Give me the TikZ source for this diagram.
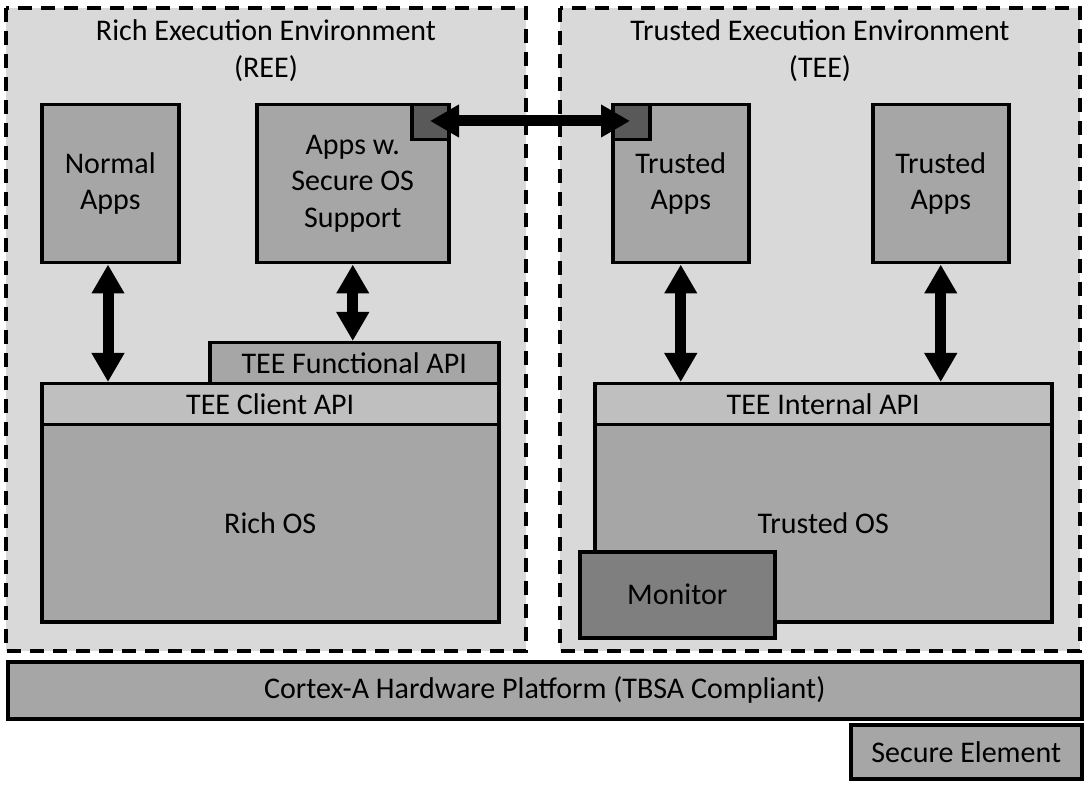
\documentclass[tikz,border=0pt]{standalone}
\usepackage{fontspec}
\setmainfont{Carlito}
\usetikzlibrary{arrows.meta}
\definecolor{envgray}{HTML}{D9D9D9}
\definecolor{boxgray}{HTML}{A6A6A6}
\definecolor{apigray}{HTML}{BFBFBF}
\definecolor{darkgray}{HTML}{595959}
\definecolor{mongray}{HTML}{7F7F7F}
\tikzset{
  env/.style={draw=black, fill=envgray, line width=3.5pt, dash pattern=on 14pt off 9pt},
  box/.style={draw=black, fill=boxgray, line width=3.5pt, anchor=north west, inner sep=0pt,
    align=center, font=\fontsize{30}{36.5}\selectfont},
  api/.style={box, fill=apigray},
  tiny/.style={draw=black, fill=darkgray, line width=3.5pt, anchor=north west, inner sep=0pt},
  bigarrow/.style={line width=11pt, {Triangle[width=31pt,length=29pt]}-{Triangle[width=31pt,length=29pt]}},
  title/.style={font=\fontsize{30}{37}\selectfont, align=center}
}
\begin{document}
\begin{tikzpicture}[x=1pt,y=-1pt]
\useasboundingbox (0,0) rectangle (1088,786);
% environments
\draw[env] (6,8) rectangle (526,651);
\draw[env] (560,8) rectangle (1080,651);
\node[title] (reet) at (266,51) {Rich Execution Environment\\(REE)};
\node[title] (teet) at (820,51) {Trusted Execution Environment\\(TEE)};
% REE apps
\node[box, minimum width=137pt, minimum height=158pt] (na) at (40,103) {Normal\\Apps};
\node[box, minimum width=192pt, minimum height=158pt] (sa) at (255,103) {Apps w.\\Secure OS\\Support};
\node[tiny, minimum width=37pt, minimum height=35pt] (sq1) at (410,103) {};
% TEE apps
\node[box, minimum width=136pt, minimum height=158pt] (ta1) at (611,103) {Trusted\\Apps};
\node[tiny, minimum width=37pt, minimum height=35pt] (sq2) at (611,103) {};
\node[box, minimum width=136pt, minimum height=158pt] (ta2) at (871,103) {Trusted\\Apps};
% REE OS stack
\node[box, minimum width=289pt, minimum height=41pt] (fapi) at (208,341) {TEE Functional API};
\node[box, minimum width=457pt, minimum height=197pt] (ros) at (40,423) {Rich OS};
\node[api, minimum width=457pt, minimum height=41pt] (capi) at (40,382) {TEE Client API};
% TEE OS stack
\node[box, minimum width=457pt, minimum height=197pt] (tos) at (593,423) {Trusted OS};
\node[api, minimum width=457pt, minimum height=41pt] (iapi) at (593,382) {TEE Internal API};
\node[box, fill=mongray, minimum width=195pt, minimum height=86pt] (mon) at (578,550) {Monitor};
% hardware
\node[box, minimum width=1074pt, minimum height=57pt] (hw) at (6,660) {Cortex-A Hardware Platform (TBSA Compliant)};
\node[box, minimum width=231pt, minimum height=54pt] (se) at (849,723) {Secure Element};
% arrows
\coordinate (h1) at (430,121);
\coordinate (h2) at (630,121);
\draw[bigarrow] (h1) -- (h2);
\draw[bigarrow] (na.south -| 108,0) -- (capi.north -| 108,0);
\draw[bigarrow] (sa.south) -- (fapi.north -| sa.south);
\draw[bigarrow] (ta1.south) -- (iapi.north -| ta1.south);
\draw[bigarrow] (ta2.south) -- (iapi.north -| ta2.south);
\end{tikzpicture}
\end{document}
